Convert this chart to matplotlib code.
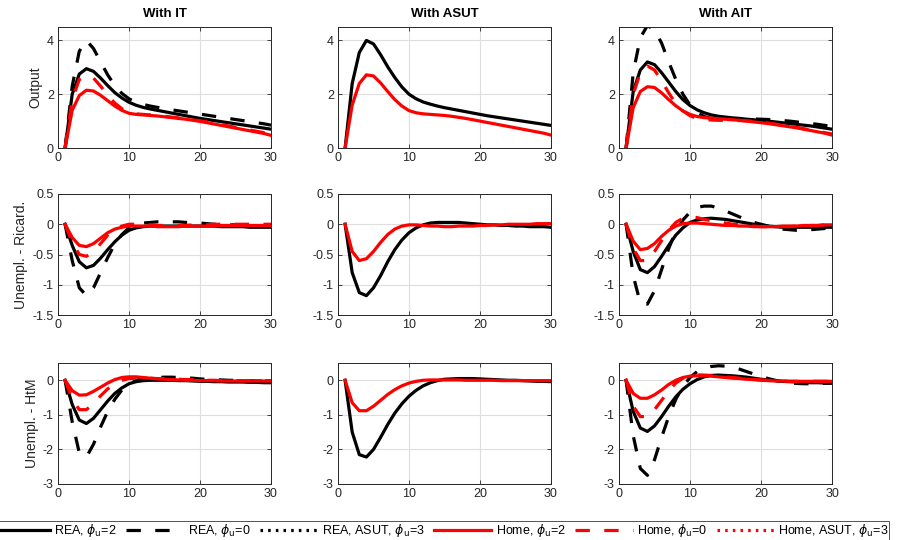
import matplotlib
matplotlib.use("Agg")
import matplotlib.pyplot as plt
from matplotlib.lines import Line2D
import numpy as np

plt.rcParams["font.family"] = ["Liberation Sans", "DejaVu Sans"]

periods = np.arange(1, 31)
col_titles = ["With IT", "With ASUT", "With AIT"]
row_labels = ["Output", "Unempl. - Ricard.", "Unempl. - HtM"]
row_ylims = [(0, 4.5), (-1.5, 0.5), (-3, 0.5)]
row_yticks = [[0, 2, 4], [-1.5, -1, -0.5, 0, 0.5], [-3, -2, -1, 0]]
row_yticklabels = [["0", "2", "4"], ["-1.5", "-1", "-0.5", "0", "0.5"], ["-3", "-2", "-1", "0"]]

# ---- Output ----
it_out_rea2 = [0, 2.0, 2.75, 2.95, 2.85, 2.6, 2.32, 2.06, 1.86, 1.7, 1.59, 1.51, 1.45, 1.4, 1.35,
               1.3, 1.25, 1.2, 1.15, 1.1, 1.06, 1.02, 0.98, 0.94, 0.9, 0.86, 0.82, 0.78, 0.74, 0.7]
it_out_rea0 = [0, 2.3, 3.6, 4.0, 3.7, 3.2, 2.72, 2.32, 2.03, 1.83, 1.7, 1.62, 1.56, 1.51, 1.46,
               1.42, 1.38, 1.34, 1.3, 1.26, 1.22, 1.18, 1.14, 1.1, 1.06, 1.02, 0.98, 0.94, 0.9, 0.85]
it_out_home2 = [0, 1.4, 1.95, 2.15, 2.12, 1.96, 1.76, 1.56, 1.4, 1.29, 1.25, 1.23, 1.21, 1.19, 1.16,
                1.13, 1.1, 1.07, 1.03, 0.99, 0.94, 0.89, 0.84, 0.79, 0.74, 0.69, 0.64, 0.59, 0.54, 0.47]
it_out_home0 = [0, 1.8, 2.55, 2.7, 2.6, 2.3, 1.96, 1.67, 1.46, 1.33, 1.27, 1.25, 1.23, 1.21, 1.18,
                1.15, 1.12, 1.09, 1.05, 1.01, 0.97, 0.92, 0.87, 0.82, 0.77, 0.72, 0.67, 0.62, 0.57, 0.52]
asut_out_rea = [0, 2.4, 3.55, 4.0, 3.87, 3.47, 3.02, 2.62, 2.27, 2.0, 1.83, 1.71, 1.63, 1.56, 1.5,
                1.45, 1.4, 1.35, 1.3, 1.25, 1.2, 1.16, 1.12, 1.08, 1.04, 1.0, 0.96, 0.92, 0.88, 0.84]
asut_out_home = [0, 1.6, 2.4, 2.72, 2.68, 2.42, 2.1, 1.8, 1.56, 1.39, 1.31, 1.27, 1.25, 1.23, 1.21,
                 1.18, 1.14, 1.1, 1.05, 1.0, 0.95, 0.9, 0.85, 0.8, 0.75, 0.7, 0.65, 0.6, 0.55, 0.48]
ait_out_rea2 = [0, 2.1, 2.9, 3.2, 3.1, 2.8, 2.45, 2.1, 1.8, 1.58, 1.42, 1.31, 1.23, 1.18, 1.15,
                1.12, 1.1, 1.07, 1.05, 1.02, 1.0, 0.97, 0.94, 0.91, 0.88, 0.85, 0.82, 0.78, 0.74, 0.7]
ait_out_rea0 = [0, 2.8, 4.1, 4.55, 4.4, 3.9, 3.2, 2.55, 2.0, 1.6, 1.32, 1.17, 1.1, 1.07, 1.06,
                1.06, 1.07, 1.08, 1.08, 1.07, 1.06, 1.04, 1.02, 1.0, 0.97, 0.94, 0.91, 0.88, 0.84, 0.8]
ait_out_home2 = [0, 1.5, 2.1, 2.28, 2.25, 2.05, 1.8, 1.57, 1.38, 1.25, 1.17, 1.13, 1.11, 1.09, 1.07,
                 1.05, 1.03, 1.0, 0.97, 0.94, 0.91, 0.87, 0.83, 0.79, 0.75, 0.7, 0.65, 0.6, 0.55, 0.48]
ait_out_home0 = [0, 2.0, 2.8, 3.05, 2.9, 2.5, 2.05, 1.65, 1.38, 1.2, 1.1, 1.06, 1.04, 1.03, 1.03,
                 1.03, 1.02, 1.01, 0.99, 0.96, 0.93, 0.89, 0.85, 0.81, 0.77, 0.72, 0.67, 0.62, 0.57, 0.52]

# ---- Unemployment, Ricardian ----
it_ric_rea2 = [0, -0.35, -0.62, -0.72, -0.68, -0.56, -0.42, -0.29, -0.18, -0.1, -0.06, -0.04, -0.03, -0.03, -0.03,
               -0.03, -0.03, -0.03, -0.03, -0.03, -0.03, -0.03, -0.04, -0.04, -0.04, -0.04, -0.05, -0.05, -0.05, -0.05]
it_ric_rea0 = [0, -0.6, -1.05, -1.18, -1.05, -0.8, -0.55, -0.33, -0.17, -0.06, -0.01, 0.02, 0.03, 0.04, 0.04,
               0.04, 0.04, 0.03, 0.03, 0.02, 0.01, 0.0, 0.0, -0.01, -0.01, -0.02, -0.02, -0.02, -0.03, -0.03]
it_ric_home2 = [0, -0.22, -0.35, -0.37, -0.32, -0.23, -0.14, -0.08, -0.05, -0.03, -0.03, -0.03, -0.03, -0.04, -0.04,
                -0.04, -0.04, -0.03, -0.03, -0.03, -0.03, -0.03, -0.02, -0.02, -0.02, -0.02, -0.02, -0.02, -0.02, -0.02]
it_ric_home0 = [0, -0.3, -0.5, -0.53, -0.45, -0.32, -0.18, -0.08, -0.03, 0.0, 0.0, -0.01, -0.01, -0.02, -0.02,
                -0.02, -0.02, -0.02, -0.01, -0.01, -0.01, 0.0, 0.0, 0.0, 0.0, 0.0, 0.0, 0.0, 0.0, 0.0]
asut_ric_rea = [0, -0.8, -1.13, -1.18, -1.05, -0.85, -0.62, -0.42, -0.26, -0.14, -0.06, -0.01, 0.02, 0.03, 0.03,
                0.03, 0.03, 0.02, 0.01, 0.0, -0.01, -0.01, -0.02, -0.02, -0.03, -0.03, -0.04, -0.04, -0.04, -0.05]
asut_ric_home = [0, -0.45, -0.6, -0.57, -0.45, -0.3, -0.17, -0.08, -0.03, -0.01, -0.01, -0.02, -0.03, -0.03, -0.04,
                 -0.04, -0.03, -0.03, -0.03, -0.02, -0.02, -0.01, -0.01, 0.0, 0.0, 0.0, 0.0, 0.01, 0.01, 0.01]
ait_ric_rea2 = [0, -0.45, -0.75, -0.8, -0.7, -0.53, -0.35, -0.18, -0.06, 0.03, 0.07, 0.09, 0.1, 0.09, 0.08,
                0.06, 0.04, 0.02, 0.0, -0.02, -0.03, -0.04, -0.05, -0.05, -0.05, -0.05, -0.05, -0.05, -0.05, -0.05]
ait_ric_rea0 = [0, -0.85, -1.3, -1.32, -1.1, -0.75, -0.4, -0.12, 0.07, 0.2, 0.28, 0.3, 0.3, 0.27, 0.22,
                0.17, 0.12, 0.07, 0.03, 0.0, -0.03, -0.06, -0.08, -0.09, -0.1, -0.1, -0.09, -0.08, -0.07, -0.06]
ait_ric_home2 = [0, -0.28, -0.42, -0.4, -0.32, -0.2, -0.1, -0.03, 0.01, 0.02, 0.02, 0.01, 0.0, -0.01, -0.02,
                 -0.02, -0.03, -0.03, -0.04, -0.04, -0.04, -0.04, -0.03, -0.03, -0.03, -0.02, -0.02, -0.02, -0.01, -0.01]
ait_ric_home0 = [0, -0.4, -0.6, -0.6, -0.45, -0.27, -0.1, 0.03, 0.1, 0.12, 0.11, 0.08, 0.06, 0.04, 0.02,
                 0.0, -0.01, -0.02, -0.03, -0.04, -0.04, -0.04, -0.04, -0.04, -0.03, -0.03, -0.02, -0.02, -0.01, -0.01]

# ---- Unemployment, hand-to-mouth ----
it_htm_rea2 = [0, -0.7, -1.15, -1.25, -1.1, -0.85, -0.6, -0.38, -0.22, -0.1, -0.04, -0.01, 0.0, 0.0, 0.0,
               0.0, -0.01, -0.01, -0.02, -0.03, -0.03, -0.04, -0.04, -0.05, -0.05, -0.05, -0.06, -0.06, -0.07, -0.07]
it_htm_rea0 = [0, -1.2, -2.1, -2.22, -1.85, -1.35, -0.9, -0.55, -0.28, -0.1, 0.0, 0.05, 0.07, 0.08, 0.09,
               0.09, 0.08, 0.07, 0.06, 0.04, 0.03, 0.02, 0.01, 0.0, 0.0, -0.01, -0.01, -0.02, -0.02, -0.02]
it_htm_home2 = [0, -0.3, -0.43, -0.42, -0.32, -0.2, -0.08, 0.02, 0.08, 0.1, 0.1, 0.08, 0.06, 0.04, 0.03,
                0.02, 0.01, 0.0, 0.0, -0.01, -0.01, -0.01, -0.02, -0.02, -0.02, -0.02, -0.02, -0.02, -0.02, -0.02]
it_htm_home0 = [0, -0.55, -0.85, -0.85, -0.68, -0.45, -0.25, -0.1, 0.0, 0.05, 0.06, 0.06, 0.06, 0.05, 0.05,
                0.04, 0.03, 0.02, 0.02, 0.01, 0.0, 0.0, -0.01, -0.01, -0.01, -0.01, -0.01, -0.01, -0.01, -0.01]
asut_htm_rea = [0, -1.5, -2.15, -2.22, -2.0, -1.65, -1.28, -0.95, -0.68, -0.46, -0.29, -0.16, -0.07, -0.01, 0.03,
                0.04, 0.05, 0.05, 0.05, 0.04, 0.03, 0.02, 0.01, 0.0, 0.0, -0.01, -0.02, -0.03, -0.03, -0.04]
asut_htm_home = [0, -0.65, -0.88, -0.88, -0.75, -0.58, -0.41, -0.27, -0.16, -0.08, -0.03, 0.0, 0.01, 0.01, 0.01,
                 0.01, 0.01, 0.0, 0.0, 0.0, 0.0, 0.0, -0.01, -0.01, -0.01, -0.01, -0.01, -0.01, -0.01, -0.01]
ait_htm_rea2 = [0, -0.9, -1.38, -1.48, -1.32, -1.05, -0.75, -0.48, -0.26, -0.1, 0.02, 0.1, 0.14, 0.15, 0.14,
                0.13, 0.11, 0.09, 0.06, 0.03, 0.01, -0.01, -0.03, -0.04, -0.05, -0.06, -0.07, -0.07, -0.08, -0.08]
ait_htm_rea0 = [0, -1.6, -2.55, -2.75, -2.3, -1.65, -1.05, -0.55, -0.18, 0.08, 0.25, 0.35, 0.4, 0.42, 0.41,
                0.37, 0.32, 0.25, 0.18, 0.11, 0.05, 0.0, -0.05, -0.08, -0.09, -0.1, -0.1, -0.09, -0.09, -0.08]
ait_htm_home2 = [0, -0.38, -0.52, -0.52, -0.42, -0.28, -0.12, 0.0, 0.08, 0.12, 0.13, 0.13, 0.12, 0.1, 0.08,
                 0.06, 0.05, 0.03, 0.02, 0.0, -0.01, -0.02, -0.02, -0.03, -0.03, -0.03, -0.03, -0.03, -0.03, -0.03]
ait_htm_home0 = [0, -0.75, -1.05, -1.05, -0.85, -0.58, -0.3, -0.08, 0.06, 0.13, 0.16, 0.15, 0.14, 0.12, 0.1,
                 0.08, 0.06, 0.04, 0.02, 0.01, 0.0, -0.01, -0.02, -0.03, -0.03, -0.03, -0.03, -0.03, -0.03, -0.03]

# (series, colour, style) per panel, rows x cols
panels = [
    [[(it_out_rea2, "k", "-"), (it_out_rea0, "k", "--"), (it_out_home2, "r", "-"), (it_out_home0, "r", "--")],
     [(asut_out_rea, "k", "-"), (asut_out_home, "r", "-")],
     [(ait_out_rea2, "k", "-"), (ait_out_rea0, "k", "--"), (ait_out_home2, "r", "-"), (ait_out_home0, "r", "--")]],
    [[(it_ric_rea2, "k", "-"), (it_ric_rea0, "k", "--"), (it_ric_home2, "r", "-"), (it_ric_home0, "r", "--")],
     [(asut_ric_rea, "k", "-"), (asut_ric_home, "r", "-")],
     [(ait_ric_rea2, "k", "-"), (ait_ric_rea0, "k", "--"), (ait_ric_home2, "r", "-"), (ait_ric_home0, "r", "--")]],
    [[(it_htm_rea2, "k", "-"), (it_htm_rea0, "k", "--"), (it_htm_home2, "r", "-"), (it_htm_home0, "r", "--")],
     [(asut_htm_rea, "k", "-"), (asut_htm_home, "r", "-")],
     [(ait_htm_rea2, "k", "-"), (ait_htm_rea0, "k", "--"), (ait_htm_home2, "r", "-"), (ait_htm_home0, "r", "--")]],
]

W, H = 899, 540
col_left = [58, 338, 619]
row_top = [27, 194, 363]
ax_w, ax_h = 213, 121
red = "#ff0000"
axis_grey = "#262626"
lw = 2.3

fig = plt.figure(figsize=(W / 100, H / 100), dpi=100)

for r in range(3):
    for c in range(3):
        ax = fig.add_axes([col_left[c] / W, 1 - (row_top[r] + ax_h) / H, ax_w / W, ax_h / H])
        for series, colour, style in panels[r][c]:
            kw = dict(color=red if colour == "r" else "k", lw=lw)
            if style == "--":
                kw["dashes"] = (4.5, 4.5)
            ax.plot(periods, series, **kw)
        ax.set_xlim(0, 30)
        ax.set_ylim(*row_ylims[r])
        ax.set_xticks([0, 10, 20, 30])
        ax.set_yticks(row_yticks[r])
        ax.set_yticklabels(row_yticklabels[r])
        ax.grid(True, color="#dedede", lw=0.8)
        ax.set_axisbelow(True)
        ax.tick_params(direction="in", length=3, width=0.6, labelsize=9, colors=axis_grey,
                       top=True, right=True, pad=3)
        for sp in ax.spines.values():
            sp.set_color(axis_grey)
            sp.set_linewidth(0.7)
        if r == 0:
            ax.set_title(col_titles[c], fontsize=9.5, fontweight="bold", pad=7)
        if c == 0:
            ax.set_ylabel(row_labels[r], fontsize=10, color=axis_grey, labelpad=3)

handles = [
    Line2D([], [], color="k", lw=lw),
    Line2D([], [], color="k", lw=lw, dashes=(4.5, 4.5)),
    Line2D([], [], color="k", lw=lw, dashes=(0.8, 1.6)),
    Line2D([], [], color=red, lw=lw),
    Line2D([], [], color=red, lw=lw, dashes=(4.5, 4.5)),
    Line2D([], [], color=red, lw=lw, dashes=(0.8, 1.6)),
]
labels = [r"REA, $\phi_{\mathrm{u}}$=2", r"REA, $\phi_{\mathrm{u}}$=0", r"REA, ASUT, $\phi_{\mathrm{u}}$=3",
          r"Home, $\phi_{\mathrm{u}}$=2", r"Home, $\phi_{\mathrm{u}}$=0", r"Home, ASUT, $\phi_{\mathrm{u}}$=3"]
leg = fig.legend(handles, labels, loc="upper center", bbox_to_anchor=(0.5 - 9 / W, 1 - 515 / H), ncol=6,
                 fontsize=9, handlelength=4.6, handletextpad=0.35, columnspacing=0.75,
                 frameon=True, fancybox=False, edgecolor=axis_grey, borderpad=0.05)
leg.get_frame().set_linewidth(0.7)

fig.savefig("out.png", dpi=100)
